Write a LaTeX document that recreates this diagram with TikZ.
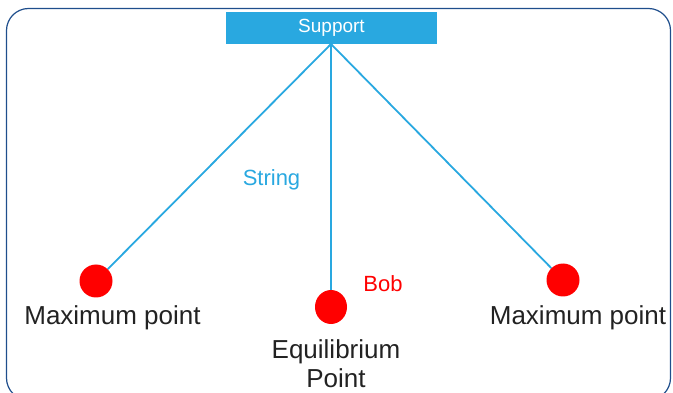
\documentclass[tikz,border=0pt]{standalone}
\usepackage{fontspec}
\usetikzlibrary{shapes.geometric}
\setmainfont{Liberation Sans}
\definecolor{sky}{HTML}{29A8E0}
\definecolor{framec}{HTML}{1F4E8C}
\definecolor{bobred}{HTML}{FF0000}
\definecolor{txt}{HTML}{222222}
\tikzset{
  stringline/.style={draw=sky, line width=1.8pt},
  bobball/.style={circle, fill=bobred, inner sep=0pt, minimum size=33pt},
  biglabel/.style={font=\fontsize{26}{29}\selectfont, text=txt, inner sep=0pt, align=center},
}
\begin{document}
\begin{tikzpicture}[x=1pt,y=-1pt]
\useasboundingbox (0,0) rectangle (673,393);
\clip (0,0) rectangle (673,393);
\draw[framec, line width=1.2pt, rounded corners=22pt] (6.5,8.5) rectangle (670.5,400);
\node[fill=sky, minimum width=211pt, minimum height=32pt, inner sep=0pt, text=white,
      font=\fontsize{19}{22}\selectfont] (sup) at (331.5,28) {Support};
\coordinate (top) at (331,44);
\node[bobball] (bl) at (96,281) {};
\node[ellipse, fill=bobred, inner sep=0pt, minimum width=32pt, minimum height=34pt] (bm) at (331,307) {};
\node[bobball] (br) at (563,280) {};
\draw[stringline] (top) -- (bl);
\draw[stringline] (top) -- (bm);
\draw[stringline] (top) -- (br);
\node[font=\fontsize{22}{24}\selectfont, text=sky, inner sep=0pt] (str) at (271.5,180) {String};
\node[font=\fontsize{22}{24}\selectfont, text=bobred, inner sep=0pt] (bob) at (383,284) {Bob};
\node[biglabel] (ml) at (112.5,318) {Maximum point};
\node[biglabel] (mr) at (578,318) {Maximum point};
\node[biglabel] (eq) at (336,363.5) {Equilibrium\\Point};
\end{tikzpicture}
\end{document}
